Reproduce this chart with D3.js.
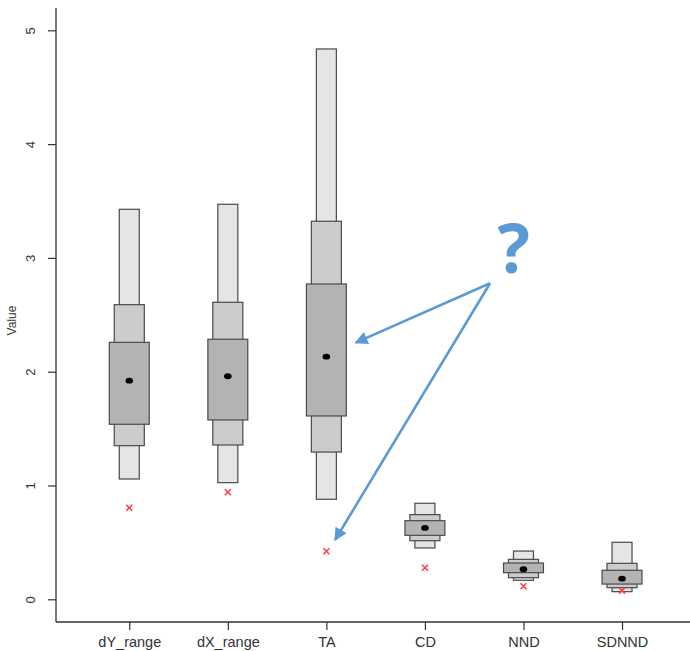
<!DOCTYPE html>
<html>
<head>
<meta charset="utf-8">
<script src="https://cdn.jsdelivr.net/npm/d3@7"></script>
<style>
  html, body { margin: 0; padding: 0; background: #fff; }
  svg { display: block; }
</style>
</head>
<body>
<svg id="chart" width="690" height="651"></svg>
<script>
// Letter-value style summary: three nested ranges per variable, plus median and a reference value.
const categories = ["dY_range", "dX_range", "TA", "CD", "NND", "SDNND"];
const outerLow   = [1.057, 1.025, 0.879, 0.451, 0.167, 0.067];
const outerHigh  = [3.427, 3.471, 4.836, 0.844, 0.424, 0.501];
const midLow     = [1.350, 1.356, 1.294, 0.515, 0.190, 0.102];
const midHigh    = [2.589, 2.610, 3.322, 0.744, 0.351, 0.316];
const innerLow   = [1.538, 1.576, 1.611, 0.562, 0.234, 0.134];
const innerHigh  = [2.258, 2.285, 2.771, 0.691, 0.319, 0.255];
const medians    = [1.921, 1.960, 2.132, 0.627, 0.264, 0.181];
const observed   = [0.805, 0.940, 0.422, 0.278, 0.114, 0.076];
const yTicks     = [0, 1, 2, 3, 4, 5];

const svg = d3.select("#chart");
const font = "'Liberation Sans', Arial, sans-serif";

// Category positions 1..n on a linear scale, R-style
const x = d3.scaleLinear().domain([0.5, 6.5]).range([80.0, 671.3]);
const y = d3.scaleLinear().domain([0, 5]).range([599.3, 30.3]);
const unit = x(1) - x(0);

const axisColor = "#333";
const plotLeft = 56, plotBottom = 622, plotTop = 8, plotRight = 690;

// Axis lines
svg.append("line").attr("x1", plotLeft).attr("x2", plotLeft)
  .attr("y1", plotTop).attr("y2", plotBottom)
  .attr("stroke", axisColor).attr("stroke-width", 1.3);
svg.append("line").attr("x1", plotLeft).attr("x2", plotRight)
  .attr("y1", plotBottom).attr("y2", plotBottom)
  .attr("stroke", axisColor).attr("stroke-width", 1.3);

// Y axis ticks and labels
const yAxis = d3.axisLeft(y).tickValues(yTicks).tickSize(8).tickFormat(d3.format("d"));
const yg = svg.append("g").attr("transform", `translate(${plotLeft},0)`).call(yAxis);
yg.select(".domain").remove();
yg.selectAll(".tick line").attr("stroke", axisColor).attr("stroke-width", 1.2);
yg.selectAll(".tick text")
  .attr("x", null).attr("dy", null)
  .attr("transform", "translate(-21,0) rotate(-90)")
  .attr("text-anchor", "middle")
  .attr("font-family", font).attr("font-size", 13)
  .attr("fill", "#333");

// X axis ticks and labels
const xAxis = d3.axisBottom(x).tickValues(d3.range(1, categories.length + 1))
  .tickSize(8).tickFormat(i => categories[i - 1]);
const xg = svg.append("g").attr("transform", `translate(0,${plotBottom})`).call(xAxis);
xg.select(".domain").remove();
xg.selectAll(".tick line").attr("stroke", axisColor).attr("stroke-width", 1.2);
xg.selectAll(".tick text")
  .attr("y", 25).attr("dy", null)
  .attr("font-family", font).attr("font-size", 14.5)
  .attr("fill", "#333");

// Y axis title
svg.append("text")
  .attr("transform", `translate(16,${y(2.45)}) rotate(-90)`)
  .attr("text-anchor", "middle")
  .attr("font-family", font).attr("font-size", 12)
  .attr("fill", "#333")
  .text("Value");

// Nested boxes: outer (lightest) to inner (darkest)
const layers = [
  { low: outerLow, high: outerHigh, width: 0.203, fill: "#e5e5e5" },
  { low: midLow,   high: midHigh,   width: 0.305, fill: "#cccccc" },
  { low: innerLow, high: innerHigh, width: 0.405, fill: "#b3b3b3" }
];

const boxes = svg.append("g");
layers.forEach(layer => {
  boxes.selectAll(null)
    .data(categories.map((c, i) => ({ i, lo: layer.low[i], hi: layer.high[i] })))
    .join("rect")
    .attr("x", d => x(d.i + 1) - layer.width * unit / 2)
    .attr("width", layer.width * unit)
    .attr("y", d => y(d.hi))
    .attr("height", d => y(d.lo) - y(d.hi))
    .attr("fill", layer.fill)
    .attr("stroke", "#4a4a4a")
    .attr("stroke-width", 1.2);
});

// Medians
svg.append("g").selectAll("ellipse")
  .data(medians)
  .join("ellipse")
  .attr("cx", (d, i) => x(i + 1))
  .attr("cy", d => y(d))
  .attr("rx", 3.8).attr("ry", 2.9)
  .attr("fill", "#000");

// Observed values as red crosses
svg.append("g").selectAll("path")
  .data(observed)
  .join("path")
  .attr("d", (d, i) => {
    const cx = x(i + 1), cy = y(d), s = 3;
    return `M${cx - s},${cy - s}L${cx + s},${cy + s}M${cx - s},${cy + s}L${cx + s},${cy - s}`;
  })
  .attr("stroke", "#ff3b3b")
  .attr("stroke-width", 1.5)
  .attr("fill", "none");

// Annotation: question mark with two arrows
const blue = "#5b9bd5";
const defs = svg.append("defs");
defs.append("marker")
  .attr("id", "arrowhead")
  .attr("viewBox", "0 0 10 10")
  .attr("refX", 9).attr("refY", 5)
  .attr("markerWidth", 5.5).attr("markerHeight", 5)
  .attr("markerUnits", "strokeWidth")
  .attr("orient", "auto")
  .append("path")
  .attr("d", "M0,0L10,5L0,10Z")
  .attr("fill", blue);

const origin = { xi: 4.661, v: 2.777 };
const targets = [
  { xi: 3.298, v: 2.255 },
  { xi: 3.088, v: 0.521 }
];
svg.append("g").selectAll("line")
  .data(targets)
  .join("line")
  .attr("x1", x(origin.xi)).attr("y1", y(origin.v))
  .attr("x2", d => x(d.xi)).attr("y2", d => y(d.v))
  .attr("stroke", blue)
  .attr("stroke-width", 2.6)
  .attr("marker-end", "url(#arrowhead)");

svg.append("text")
  .attr("x", x(4.9)).attr("y", y(2.87))
  .attr("text-anchor", "middle")
  .attr("font-family", "'Open Sans', 'DejaVu Sans', sans-serif")
  .attr("font-weight", "bold")
  .attr("font-size", 68)
  .attr("fill", blue)
  .text("?");
</script>
</body>
</html>
